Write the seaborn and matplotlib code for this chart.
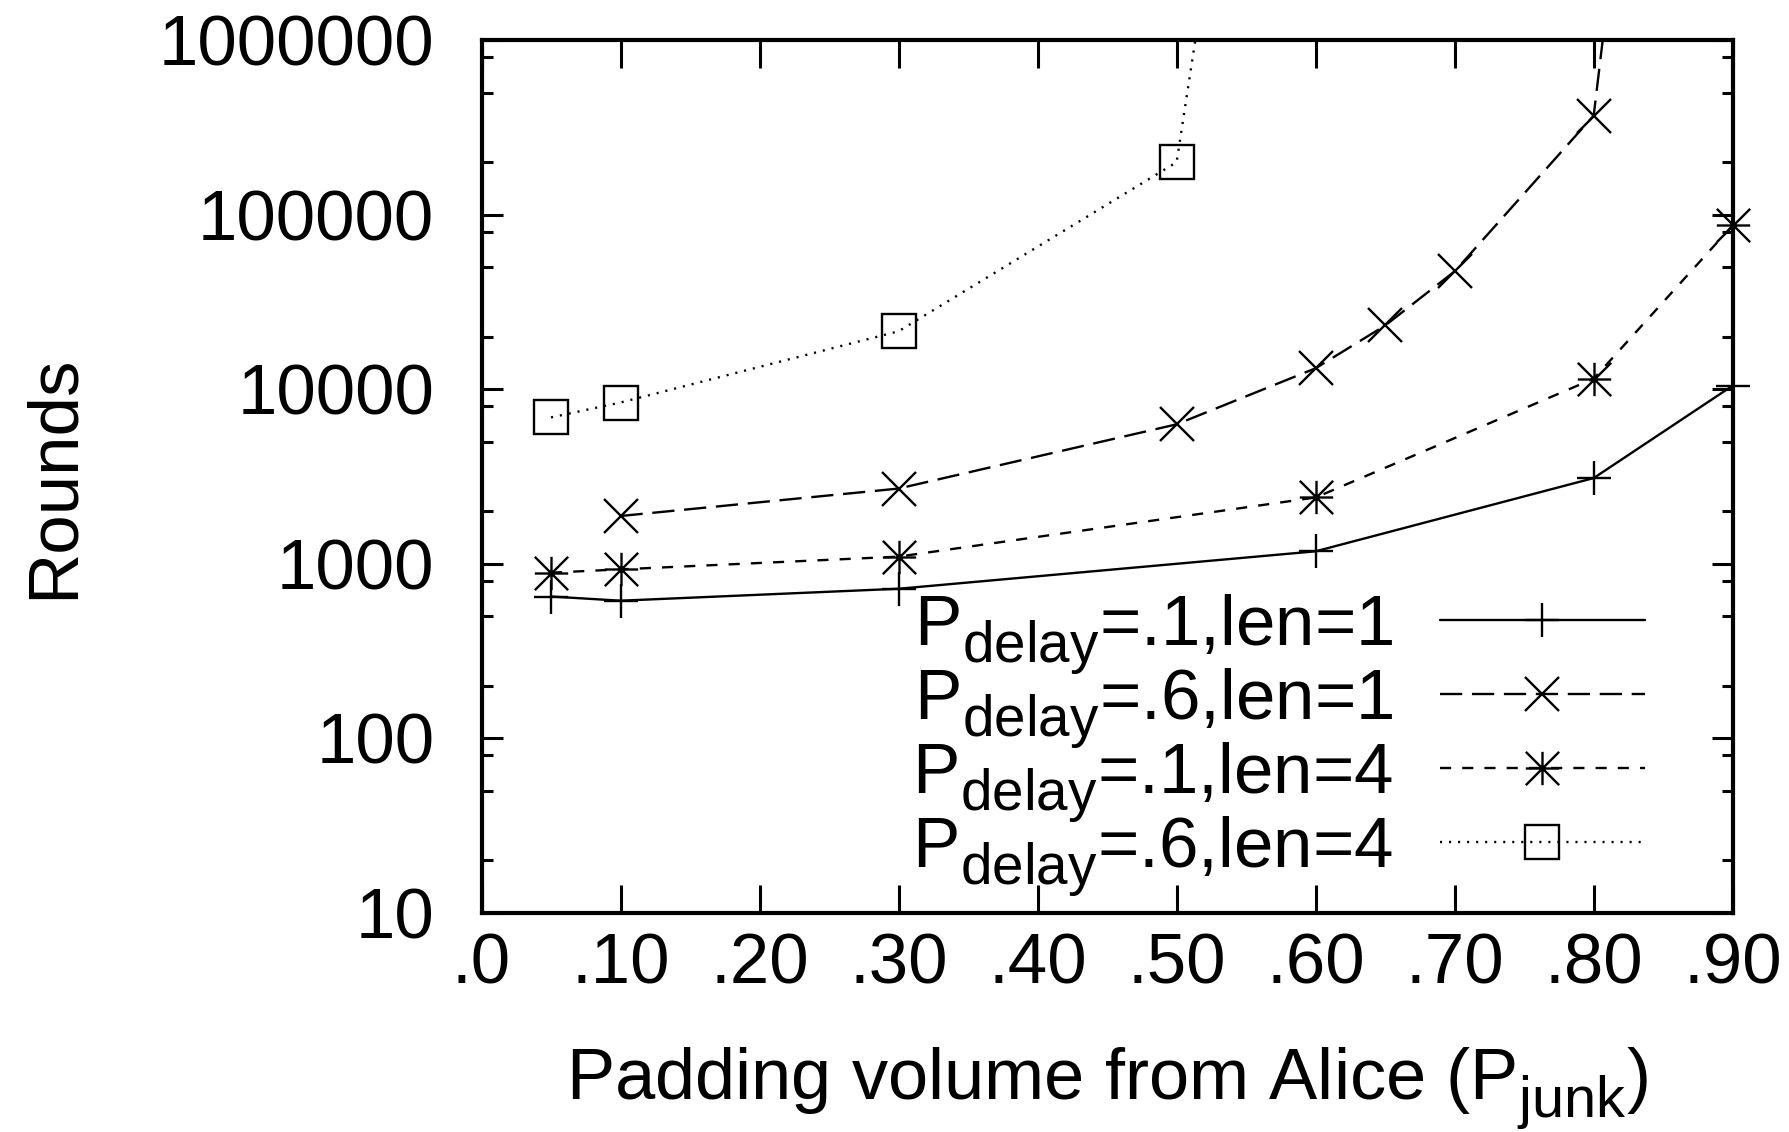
import matplotlib as mpl
mpl.use('Agg')
import matplotlib.pyplot as plt
import matplotlib.ticker as mticker
import matplotlib.path as mpath
import matplotlib._mathtext as mathtext
import seaborn as sns

# Rounds vs padding volume (log scale)
x_d1_len1 = [0.05, 0.10, 0.30, 0.60, 0.80, 0.90]
y_d1_len1 = [650, 615, 720, 1180, 3100, 10500]

x_d6_len1 = [0.10, 0.30, 0.50, 0.60, 0.65, 0.70, 0.80, 0.85]
y_d6_len1 = [1880, 2700, 6300, 13200, 23200, 47400, 370000, 8e8]

x_d1_len4 = [0.05, 0.10, 0.30, 0.60, 0.80, 0.90]
y_d1_len4 = [890, 930, 1100, 2400, 11500, 87000]

x_d6_len4 = [0.05, 0.10, 0.30, 0.50, 0.55]
y_d6_len4 = [6900, 8400, 21500, 200000, 8e7]

labels = [r'$\mathregular{P_{delay}}$=.1,len=1',
          r'$\mathregular{P_{delay}}$=.6,len=1',
          r'$\mathregular{P_{delay}}$=.1,len=4',
          r'$\mathregular{P_{delay}}$=.6,len=4']
x_ticks = [0.0, 0.1, 0.2, 0.3, 0.4, 0.5, 0.6, 0.7, 0.8, 0.9]
x_ticklabels = ['.0', '.10', '.20', '.30', '.40', '.50', '.60', '.70', '.80', '.90']
y_ticks = [10, 100, 1000, 10000, 100000, 1000000]
y_ticklabels = ['10', '100', '1000', '10000', '100000', '1000000']

sns.set_style('ticks')
plt.rcParams['font.family'] = ['Liberation Sans', 'DejaVu Sans']
plt.rcParams['mathtext.fontset'] = 'custom'
plt.rcParams['mathtext.rm'] = 'Liberation Sans'
plt.rcParams['lines.scale_dashes'] = False
for k in ['text.color', 'axes.labelcolor', 'xtick.color', 'ytick.color', 'axes.edgecolor']:
    plt.rcParams[k] = 'black'

# gnuplot style subscripts: a bit larger and set lower
mathtext.SHRINK_FACTOR = 0.8
mathtext.FontConstantsBase.sub1 = 0.48

# gnuplot point type 3: + and x on top of each other
star = mpath.Path(
    [(-1, 0), (1, 0), (0, -1), (0, 1), (-1, -1), (1, 1), (-1, 1), (1, -1)],
    [mpath.Path.MOVETO, mpath.Path.LINETO] * 4)

fig = plt.figure(figsize=(17.9, 11.32), dpi=100)
ax = fig.add_axes([0.269, 0.1935, 0.699, 0.771])

styles = [
    dict(linestyle='-', marker='+'),
    dict(linestyle=(0, (16, 7)), marker='x'),
    dict(linestyle=(0, (8, 8)), marker=star),
    dict(linestyle=(0, (1.5, 5)), marker='s', fillstyle='none'),
]
series = [(x_d1_len1, y_d1_len1), (x_d6_len1, y_d6_len1),
          (x_d1_len4, y_d1_len4), (x_d6_len4, y_d6_len4)]

for (xs, ys), st, lab in zip(series, styles, labels):
    sns.lineplot(x=xs, y=ys, ax=ax, color='black', linewidth=1.7,
                 markersize=24, markeredgewidth=1.7,
                 markeredgecolor='black', markerfacecolor='none',
                 label=lab, **st)

# points at the right edge are drawn whole, as in the original
for line in (ax.lines[0], ax.lines[2]):
    line.set_clip_on(False)

ax.set_yscale('log')
ax.set_xlim(0, 0.9)
ax.set_ylim(10, 1e6)
ax.set_xticks(x_ticks)
ax.set_xticklabels(x_ticklabels)
ax.set_yticks(y_ticks)
ax.set_yticklabels(y_ticklabels)
ax.yaxis.set_minor_locator(mticker.LogLocator(base=10, subs=(2, 5, 8)))
ax.yaxis.set_minor_formatter(mticker.NullFormatter())
ax.tick_params(axis='both', which='both', direction='in', top=True, right=True,
               labelsize=51, width=2.2, color='black')
ax.tick_params(axis='x', which='major', length=20, pad=14)
ax.tick_params(axis='y', which='major', length=15, pad=34)
ax.tick_params(axis='y', which='minor', length=8)
for sp in ax.spines.values():
    sp.set_linewidth(3)

ax.set_xlabel(r'Padding volume from Alice ($\mathregular{P_{junk}}$)', fontsize=52, labelpad=34)
ax.set_ylabel('Rounds', fontsize=51, labelpad=51)

ax.legend(loc='lower right', bbox_to_anchor=(0.93, 0.016), frameon=False,
          markerfirst=False, fontsize=51, handlelength=2.9, handletextpad=0.66,
          labelspacing=-0.15, borderaxespad=0.0, borderpad=0.0)

plt.savefig('out.png', dpi=100)
plt.close()
